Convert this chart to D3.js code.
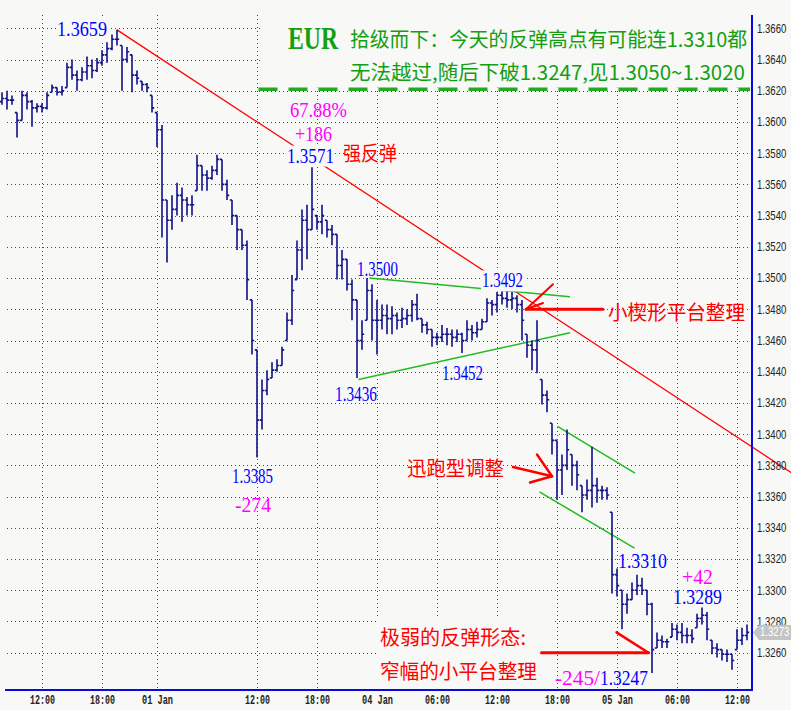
<!DOCTYPE html>
<html><head><meta charset="utf-8">
<script src="https://cdn.jsdelivr.net/npm/d3@7"></script>
<style>html,body{margin:0;padding:0;background:#f8f8f6;overflow:hidden}</style>
</head><body><svg id="c" width="791" height="710"></svg>
<script>
// ---------------- DATA (EUR, 30-min OHLC bars) ----------------
const opens = [
1.3613,1.3615,1.3614,1.3606,1.3601,1.3617,1.3613,1.3609,1.3610,1.3609,
1.3619,1.3622,1.3619,1.3622,1.3635,1.3630,1.3627,1.3632,1.3636,1.3633,
1.3638,1.3643,1.3647,1.3653,1.3649,1.3640,1.3643,1.3630,1.3626,1.3624,
1.3617,1.3606,1.3595,1.3550,1.3537,1.3544,1.3553,1.3550,1.3547,1.3556,
1.3572,1.3566,1.3564,1.3569,1.3576,1.3560,1.3550,1.3540,1.3531,1.3521,
1.3486,1.3454,1.3409,1.3428,1.3436,1.3441,1.3444,1.3460,1.3473,1.3499,
1.3518,1.3537,1.3531,1.3540,1.3536,1.3537,1.3531,1.3528,1.3508,1.3512,
1.3496,1.3486,1.3460,1.3473,1.3492,1.3473,1.3473,1.3476,1.3474,1.3476,
1.3473,1.3474,1.3476,1.3483,1.3474,1.3470,1.3467,1.3462,1.3462,1.3464,
1.3464,1.3462,1.3464,1.3460,1.3467,1.3465,1.3467,1.3472,1.3484,1.3483,
1.3489,1.3487,1.3486,1.3487,1.3483,1.3464,1.3457,1.3454,1.3435,1.3425,
1.3407,1.3396,1.3377,1.3380,1.3387,1.3380,1.3367,1.3361,1.3364,1.3367,
1.3364,1.3364,1.3350,1.3310,1.3300,1.3291,1.3294,1.3300,1.3303,1.3300,
1.3291,1.3263,1.3268,1.3267,1.3270,1.3275,1.3273,1.3271,1.3271,1.3276,
1.3282,1.3284,1.3268,1.3263,1.3262,1.3259,1.3259,1.3262,1.3268,1.3271];
const highs = [
1.3619,1.3620,1.3617,1.3606,1.3620,1.3619,1.3614,1.3612,1.3612,1.3619,
1.3624,1.3622,1.3623,1.3638,1.3640,1.3633,1.3635,1.3642,1.3640,1.3641,
1.3646,1.3651,1.3656,1.3659,1.3649,1.3648,1.3643,1.3633,1.3626,1.3625,
1.3617,1.3606,1.3598,1.3550,1.3553,1.3561,1.3558,1.3552,1.3553,1.3579,
1.3572,1.3569,1.3572,1.3579,1.3576,1.3563,1.3550,1.3540,1.3531,1.3524,
1.3486,1.3454,1.3435,1.3441,1.3446,1.3448,1.3456,1.3478,1.3502,1.3524,
1.3544,1.3547,1.3571,1.3540,1.3547,1.3537,1.3534,1.3528,1.3518,1.3512,
1.3499,1.3486,1.3473,1.3500,1.3496,1.3486,1.3483,1.3483,1.3482,1.3478,
1.3481,1.3480,1.3486,1.3490,1.3474,1.3472,1.3467,1.3465,1.3470,1.3468,
1.3467,1.3467,1.3465,1.3473,1.3470,1.3472,1.3474,1.3487,1.3486,1.3491,
1.3492,1.3492,1.3491,1.3489,1.3486,1.3464,1.3460,1.3473,1.3435,1.3428,
1.3407,1.3396,1.3387,1.3403,1.3387,1.3383,1.3367,1.3371,1.3392,1.3372,
1.3367,1.3366,1.3350,1.3314,1.3300,1.3298,1.3305,1.3310,1.3308,1.3300,
1.3292,1.3273,1.3271,1.3269,1.3279,1.3278,1.3279,1.3276,1.3275,1.3285,
1.3289,1.3286,1.3268,1.3266,1.3262,1.3262,1.3259,1.3275,1.3276,1.3278];
const lows = [
1.3611,1.3608,1.3611,1.3590,1.3601,1.3608,1.3597,1.3606,1.3606,1.3608,
1.3619,1.3617,1.3617,1.3622,1.3627,1.3620,1.3626,1.3627,1.3628,1.3632,
1.3636,1.3638,1.3646,1.3649,1.3620,1.3638,1.3619,1.3624,1.3620,1.3619,
1.3606,1.3584,1.3526,1.3510,1.3531,1.3540,1.3536,1.3540,1.3540,1.3556,
1.3556,1.3556,1.3563,1.3566,1.3556,1.3550,1.3534,1.3518,1.3518,1.3486,
1.3451,1.3385,1.3403,1.3425,1.3436,1.3440,1.3444,1.3460,1.3470,1.3499,
1.3505,1.3512,1.3531,1.3531,1.3528,1.3526,1.3521,1.3499,1.3499,1.3492,
1.3473,1.3436,1.3454,1.3473,1.3460,1.3451,1.3467,1.3464,1.3464,1.3467,
1.3468,1.3470,1.3472,1.3473,1.3465,1.3464,1.3456,1.3457,1.3459,1.3457,
1.3456,1.3459,1.3452,1.3460,1.3460,1.3462,1.3467,1.3472,1.3476,1.3478,
1.3483,1.3481,1.3480,1.3478,1.3460,1.3449,1.3441,1.3439,1.3419,1.3414,
1.3387,1.3358,1.3361,1.3377,1.3367,1.3364,1.3350,1.3358,1.3353,1.3356,
1.3358,1.3358,1.3298,1.3296,1.3275,1.3285,1.3294,1.3297,1.3297,1.3284,
1.3247,1.3263,1.3263,1.3263,1.3270,1.3268,1.3266,1.3266,1.3266,1.3276,
1.3278,1.3268,1.3259,1.3257,1.3255,1.3254,1.3249,1.3262,1.3265,1.3268];
const closes = [
1.3615,1.3614,1.3614,1.3601,1.3617,1.3613,1.3609,1.3610,1.3609,1.3617,
1.3622,1.3619,1.3620,1.3635,1.3630,1.3627,1.3632,1.3636,1.3633,1.3638,
1.3643,1.3647,1.3653,1.3653,1.3640,1.3645,1.3630,1.3628,1.3624,1.3622,
1.3609,1.3595,1.3550,1.3537,1.3544,1.3553,1.3550,1.3547,1.3547,1.3572,
1.3566,1.3564,1.3569,1.3576,1.3560,1.3553,1.3540,1.3531,1.3521,1.3499,
1.3460,1.3409,1.3428,1.3435,1.3441,1.3444,1.3454,1.3473,1.3492,1.3518,
1.3537,1.3531,1.3544,1.3536,1.3540,1.3531,1.3528,1.3508,1.3512,1.3496,
1.3486,1.3460,1.3464,1.3492,1.3473,1.3473,1.3476,1.3474,1.3476,1.3473,
1.3474,1.3476,1.3483,1.3474,1.3470,1.3467,1.3462,1.3462,1.3464,1.3464,
1.3462,1.3464,1.3460,1.3467,1.3465,1.3467,1.3472,1.3484,1.3483,1.3489,
1.3487,1.3486,1.3487,1.3483,1.3473,1.3457,1.3454,1.3460,1.3425,1.3422,
1.3396,1.3377,1.3380,1.3390,1.3380,1.3374,1.3361,1.3364,1.3367,1.3364,
1.3364,1.3361,1.3310,1.3303,1.3291,1.3294,1.3300,1.3303,1.3300,1.3291,
1.3262,1.3268,1.3267,1.3267,1.3275,1.3273,1.3271,1.3271,1.3269,1.3282,
1.3284,1.3275,1.3263,1.3262,1.3259,1.3259,1.3255,1.3268,1.3271,1.3273];

const priceTicks = [1.3660,1.3640,1.3620,1.3600,1.3580,1.3560,1.3540,1.3520,1.3500,1.3480,
  1.3460,1.3440,1.3420,1.3400,1.3380,1.3360,1.3340,1.3320,1.3300,1.3280,1.3260];
const timeTickBars   = [8,20,31,51,63,75,87,99,111,123,135,147];
const timeTickLabels = ["12:00","18:00","01 Jan","12:00","18:00","04 Jan","06:00","12:00","18:00","05 Jan","06:00","12:00"];
const lastPrice = 1.3273;

// trend / pattern lines: [barIndex, price] pairs
const redTrend     = [[23,1.3659],[158,1.3375]];
const wedgeUpper   = [[73.5,1.3500],[113.6,1.3488]];
const wedgeLower   = [[71.3,1.3435],[113.6,1.3465]];
const channelUpper = [[111.1,1.3405],[126.6,1.3375]];
const channelLower = [[107.5,1.3363],[126.5,1.3327]];
// red arrows
const arrowWedge   = [[[104.8,1.3480],[120.2,1.3480]],[[104.8,1.3480],[110.2,1.3496]],[[104.8,1.3480],[108.2,1.3484]]];
const arrowRun     = [[[102.2,1.3379],[110.0,1.3373]],[[107.0,1.3387],[110.0,1.3373]],[[105.6,1.3369],[110.0,1.3373]]];
const arrowFlat    = [[[107.9,1.3260],[129.3,1.3260]],[[122.9,1.3273],[129.3,1.3260]]];

// text annotations: text, [barIndex, price] anchor (left, baseline)
const titleTexts = ["EUR","拾级而下：今天的反弹高点有可能连1.3310都","无法越过,随后下破1.3247,见1.3050~1.3020"];
const titleAt    = [[57.2,1.3647],[69.6,1.3648],[69.6,1.3627]];
const priceNotes   = ["1.3659","1.3571","1.3500","1.3492","1.3436","1.3452","1.3385","1.3310","1.3289","1.3247"];
const priceNotesAt = [[11,1.3655],[57,1.3574],[71,1.3501],[96,1.3494],[66.6,1.3421],[88,1.3435],[46,1.3369],[123.2,1.3314],[134.2,1.3291],[119.6,1.3239]];
const pipNotes   = ["67.88%","+186","-274","+42","-245/"];
const pipNotesAt = [[57.6,1.3603],[58.6,1.3588],[46.6,1.3350],[136,1.3304],[110.6,1.3239]];
const redNotes   = ["强反弹","小楔形平台整理","迅跑型调整","极弱的反弹形态:","窄幅的小平台整理"];
const redNotesAt = [[68.2,1.3575],[121.2,1.3473],[81,1.3373],[75.6,1.3265],[75.6,1.3243]];

// ---------------- DRAW ----------------
const svg = d3.select("#c");
const BG = "#f8f8f6";
const x = d3.scaleLinear().domain([-0.4,150]).range([0,752]);
const y = d3.scaleLinear().domain([1.3660,1.3260]).range([28.3,652.7]);
const TOP = 15, BOTTOM = 690, RIGHT = 752;

svg.append("rect").attr("width",791).attr("height",710).attr("fill",BG);

// grid
const grid = svg.append("g").attr("stroke","#4a4a4a").attr("stroke-width",1).attr("stroke-dasharray","1,3");
priceTicks.forEach(p=>{
  const yy = Math.round(y(p))+0.5;
  grid.append("line").attr("x1",7).attr("x2",RIGHT-1).attr("y1",yy).attr("y2",yy);
});
timeTickBars.forEach(b=>{
  const xx = Math.round(x(b))+0.5;
  grid.append("line").attr("x1",xx).attr("x2",xx).attr("y1",TOP).attr("y2",BOTTOM-1);
});

// background blocks behind the text annotations
svg.append("rect").attr("x",x(52)).attr("y",0).attr("width",RIGHT-1-x(52)).attr("height",y(1.3622)).attr("fill",BG);
svg.append("rect").attr("x",x(74.8)).attr("y",y(1.3282)).attr("width",x(110)-x(74.8)).attr("height",BOTTOM-1-y(1.3282)).attr("fill",BG);

const line = d3.line().x(d=>x(d[0])).y(d=>y(d[1]));
// red trend line
svg.append("path").attr("d",line(redTrend)).attr("stroke","#ff0000").attr("stroke-width",1.3).attr("fill","none");
// green pattern lines
[wedgeUpper,wedgeLower,channelUpper,channelLower].forEach(seg=>{
  svg.append("path").attr("d",line(seg)).attr("stroke","#22bb22").attr("stroke-width",1.5).attr("fill","none");
});

// OHLC bars
let dpath = "";
closes.forEach((c,i)=>{
  const xx = x(i);
  dpath += `M${xx},${y(lows[i])}V${y(highs[i])}M${xx-2.2},${y(opens[i])}H${xx}M${xx},${y(c)}H${xx+2.2}`;
});
svg.append("path").attr("d",dpath).attr("stroke","#10108a").attr("stroke-width",1.6).attr("fill","none");

// green dashed separator under title
svg.append("line").attr("x1",x(51.3)).attr("x2",RIGHT-2).attr("y1",y(1.3621)).attr("y2",y(1.3621))
  .attr("stroke","#22aa22").attr("stroke-width",3.5).attr("stroke-dasharray","19,11");

// text helper
function label(txt, at, opt){
  const g = svg.append("g");
  const t = g.append("text").attr("x",x(at[0])).attr("y",y(at[1])).text(txt)
    .attr("font-family",opt.font).attr("font-size",opt.size).attr("fill",opt.color)
    .attr("font-weight",opt.weight||"normal");
  if(opt.w){ t.attr("textLength",opt.w).attr("lengthAdjust","spacingAndGlyphs"); }
  if(opt.bg){
    const b = t.node().getBBox();
    g.insert("rect","text").attr("x",b.x-1).attr("y",b.y+3).attr("width",b.width+2).attr("height",b.height-4).attr("fill",BG);
  }
  return t;
}
const SERIF = "'Liberation Serif','Times New Roman',serif";
const CJK = "'Noto Sans CJK SC','Noto Sans CJK JP',sans-serif";
const numW = {"1.3659":50,"1.3571":47,"1.3500":41,"1.3492":41,"1.3436":42,"1.3452":41,"1.3385":41,"1.3310":49,"1.3289":49,"1.3247":48};
priceNotes.forEach((t,i)=> label(t, priceNotesAt[i], {font:SERIF,size:22,color:"#0000ff",w:numW[t],bg:(t==="1.3571"||t==="1.3492"||t==="1.3659")}));
const pipW = [57,37,36,31,45];
pipNotes.forEach((t,i)=> label(t, pipNotesAt[i], {font:SERIF,size:22,color:"#ff00ff",w:pipW[i]}));
const redW = [54,137,97,146,157];
redNotes.forEach((t,i)=> label(t, redNotesAt[i], {font:CJK,size:20,color:"#ff0000",w:redW[i]}));
label(titleTexts[0], titleAt[0], {font:SERIF,size:31,color:"#12a012",weight:"bold",w:50});
label(titleTexts[1], titleAt[1], {font:CJK,size:20,color:"#12a012",w:397});
label(titleTexts[2], titleAt[2], {font:CJK,size:20,color:"#12a012",w:395});

// red arrows
const arrows = svg.append("g").attr("stroke","#ff0000").attr("fill","none").attr("stroke-linecap","round");
[[arrowWedge,[3,2,2]],[arrowRun,[2.5,2.5,2.5]],[arrowFlat,[3,2.5]]].forEach(([segs,ws])=>{
  segs.forEach((s,i)=> arrows.append("path").attr("d",line(s)).attr("stroke-width",ws[i]));
});

// axes
const SX = 0.8;
const yAxis = d3.axisRight(y).tickValues(priceTicks).tickSize(0).tickPadding(0).tickFormat(d3.format(".4f"));
const gy = svg.append("g").attr("transform",`translate(${RIGHT},0)`).call(yAxis);
gy.select(".domain").remove();
gy.selectAll("text").attr("font-family","'Liberation Sans',Arial,sans-serif").attr("font-size",12)
  .attr("fill","#222").attr("x",5/SX).attr("transform",`scale(${SX},1)`);

const xAxis = d3.axisBottom(x).tickValues(timeTickBars).tickSize(0).tickPadding(5).tickFormat((d,i)=>timeTickLabels[i]);
const gx = svg.append("g").attr("transform",`translate(0,${BOTTOM})`).call(xAxis);
gx.select(".domain").remove();
gx.selectAll("text").attr("font-family","'Liberation Mono','Courier New',monospace").attr("font-size",12)
  .attr("font-weight","bold").attr("fill","#222")
  .attr("textLength",d=>timeTickLabels[timeTickBars.indexOf(d)].length>5?31:25).attr("lengthAdjust","spacingAndGlyphs");

svg.append("line").attr("x1",RIGHT).attr("x2",RIGHT).attr("y1",TOP).attr("y2",BOTTOM+1).attr("stroke","#0a0ae0").attr("stroke-width",2);
svg.append("line").attr("x1",5).attr("x2",RIGHT).attr("y1",BOTTOM).attr("y2",BOTTOM).attr("stroke","#0a0ae0").attr("stroke-width",2);

// current price marker
const yc = y(lastPrice);
svg.append("path").attr("d",`M${RIGHT+1},${yc}L${RIGHT+7},${yc-7.5}H791V${yc+7.5}H${RIGHT+7}Z`).attr("fill","#c4c4c4");
svg.append("text").attr("x",(RIGHT+8)/SX).attr("y",yc+4).attr("transform",`scale(${SX},1)`).text(d3.format(".4f")(lastPrice))
  .attr("font-family","'Liberation Sans',Arial,sans-serif").attr("font-size",12).attr("fill","#ffffff");
</script></body></html>
